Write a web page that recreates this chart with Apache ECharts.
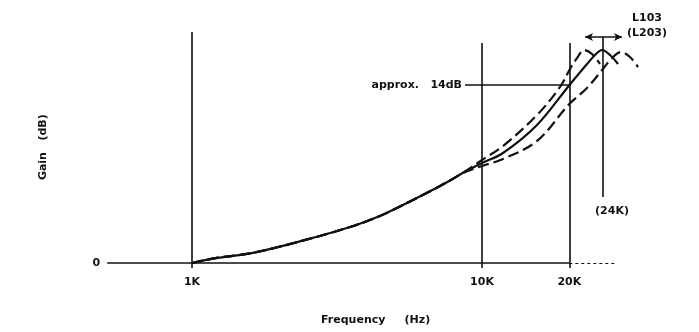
<!DOCTYPE html>
<html>
<head>
<meta charset="utf-8">
<script src="https://cdn.jsdelivr.net/npm/echarts@6/dist/echarts.min.js"></script>
<style>html,body{margin:0;padding:0;background:#fff}#c{width:699px;height:332px}</style>
</head>
<body>
<div id="c"></div>
<script>
// Shared part of the response (all three curves coincide below 10 kHz)
const commonFreq = [1000, 1219, 1622, 2355, 3508, 4445, 5212, 6618, 7762, 8601];
const commonGain = [0, 0.4, 0.8, 1.7, 2.83, 3.7, 4.45, 5.65, 6.5, 7.1];
// Upper (dashed) curve above 10 kHz
const upperFreq = [10000, 11814, 15477, 18578, 20111, 21265, 22478, 23950, 25520];
const upperGain = [8.11, 9.21, 11.65, 13.86, 15.28, 16.14, 16.77, 16.46, 15.67];
// Middle (solid) curve above 10 kHz
const midFreq = [10000, 11814, 15477, 20000, 23020, 24723, 25929, 27627, 29444];
const midGain = [7.87, 8.66, 10.87, 14.0, 15.67, 16.46, 16.77, 16.38, 15.67];
// Lower (dashed) curve above 10 kHz
const lowerFreq = [10000, 11814, 15477, 20000, 23020, 26135, 28072, 30162, 32382, 34514];
const lowerGain = [7.64, 8.19, 9.61, 12.52, 13.78, 15.28, 16.14, 16.61, 16.22, 15.43];
// Reference lines / labels
const tickFreqs = [1000, 10000, 20000];
const tickLabels = ['1K', '10K', '20K'];
const tickTops = [18.19, 17.32, 17.32];
const markerFreq = 26135, markerLabel = '(24K)', markerRange = [5.2, 17.8];
const refGain = 14, refLabel = 'approx.   14dB', refFrom = 8735;
const arrowFrom = 22659, arrowTo = 30403, arrowGain = 17.8;
const noteText = 'L103\n(L203)', noteFreq = 37060, noteGain = 18.66;

const pairs = (fs, gs) => fs.map((f, i) => [f, gs[i]]);
const build = (fs, gs) => pairs(commonFreq, commonGain).concat(pairs(fs, gs));

const FONT = {color: '#111', fontSize: 11, fontWeight: 'bold', fontFamily: 'DejaVu Sans'};
const black = '#111';

const markData = [];
markData.push([
  {coord: [510, 0], lineStyle: {color: black, width: 1.5, type: 'solid'},
   label: Object.assign({show: true, position: 'start', formatter: '0', distance: 7}, FONT)},
  {coord: [20000, 0]}
]);
markData.push([
  {coord: [20000, 0], lineStyle: {color: black, width: 1, type: [3, 3]}, label: {show: false}},
  {coord: [29000, 0]}
]);
tickFreqs.forEach((f, i) => {
  markData.push([
    {coord: [f, -0.39], lineStyle: {color: black, width: 1.6, type: 'solid'},
     label: Object.assign({show: true, position: 'start', formatter: tickLabels[i], distance: 9}, FONT)},
    {coord: [f, tickTops[i]]}
  ]);
});
markData.push([
  {coord: [markerFreq, markerRange[0]], lineStyle: {color: black, width: 1.6, type: 'solid'},
   label: Object.assign({show: true, position: 'start', formatter: markerLabel, distance: 9, padding: [0, 0, 0, 18]}, FONT)},
  {coord: [markerFreq, markerRange[1]]}
]);
markData.push([
  {coord: [refFrom, refGain], lineStyle: {color: black, width: 1.5, type: 'solid'},
   label: Object.assign({show: true, position: 'start', formatter: refLabel, distance: 3}, FONT)},
  {coord: [20000, refGain]}
]);
markData.push([
  {coord: [arrowFrom, arrowGain], symbol: 'arrow', symbolSize: [6, 8],
   lineStyle: {color: black, width: 1.5, type: 'solid'}, label: {show: false}},
  {coord: [arrowTo, arrowGain], symbol: 'arrow', symbolSize: [6, 8]}
]);

const lineBase = {type: 'line', showSymbol: false, symbol: 'none', smooth: 0.35, silent: true};

const option = {
  animation: false,
  backgroundColor: '#fff',
  grid: {left: 104.7, right: 42.4, top: 9, bottom: 62.65, outerBoundsMode: 'none', containLabel: false},
  xAxis: {
    type: 'log', logBase: 10, min: 500, max: 40000,
    axisLine: {show: false, onZero: false}, axisTick: {show: false}, axisLabel: {show: false},
    splitLine: {show: false}, minorTick: {show: false},
    name: 'Frequency     (Hz)', nameLocation: 'middle', nameGap: 45,
    nameTextStyle: Object.assign({padding: [0, 10, 0, 0]}, FONT)
  },
  yAxis: {
    type: 'value', min: -0.5, max: 20,
    axisLine: {show: false}, axisTick: {show: false}, axisLabel: {show: false}, splitLine: {show: false},
    name: 'Gain   (dB)', nameLocation: 'middle', nameGap: 56, nameRotate: 90,
    nameTextStyle: Object.assign({padding: [0, 16, 0, 0]}, FONT)
  },
  series: [
    Object.assign({}, lineBase, {
      name: 'upper', data: build(upperFreq, upperGain),
      lineStyle: {color: black, width: 2.2, type: [11, 5]}
    }),
    Object.assign({}, lineBase, {
      name: 'lower', data: build(lowerFreq, lowerGain),
      lineStyle: {color: black, width: 2.2, type: [11, 5]}
    }),
    Object.assign({}, lineBase, {
      name: 'middle', data: build(midFreq, midGain),
      lineStyle: {color: black, width: 2.2, type: 'solid'},
      markLine: {silent: true, symbol: ['none', 'none'], animation: false, data: markData},
      markPoint: {
        silent: true, symbol: 'circle', symbolSize: 1, itemStyle: {color: 'rgba(0,0,0,0)'},
        data: [{coord: [noteFreq, noteGain],
          label: Object.assign({show: true, position: 'inside', formatter: noteText, lineHeight: 15, align: 'center'}, FONT)}]
      }
    })
  ]
};
echarts.init(document.getElementById('c'), null, {renderer: 'canvas'}).setOption(option);
</script>
</body>
</html>
